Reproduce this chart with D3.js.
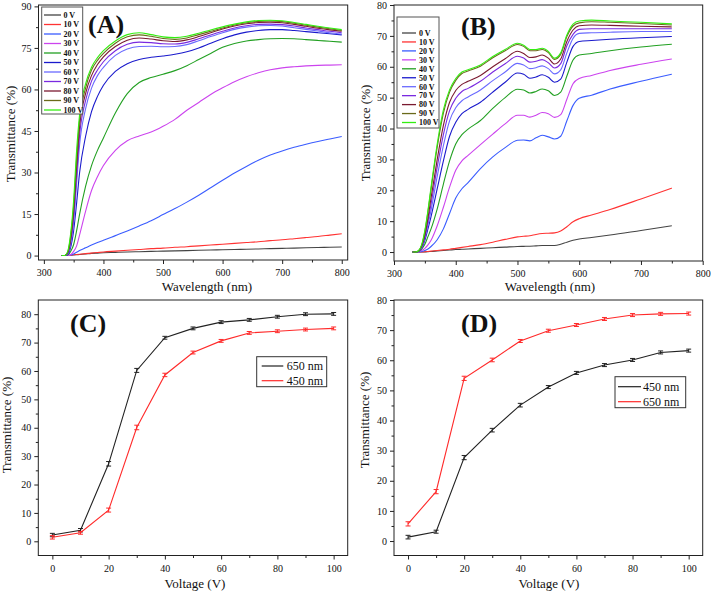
<!DOCTYPE html>
<html><head><meta charset="utf-8">
<script src="https://cdn.jsdelivr.net/npm/d3@7"></script>
<style>
body{margin:0;background:#fff}
svg{display:block}
text{font-family:"Liberation Serif","Times New Roman",serif;fill:#111}
</style>
</head><body>
<svg id="c" width="711" height="592"></svg>
<script>
// ---------- legend / series names ----------
const voltLabels = ["0 V","10 V","20 V","30 V","40 V","50 V","60 V","70 V","80 V","90 V","100 V"];
const voltColors = ["#444444","#ff3333","#3a5cff","#cc44ee","#22a022","#1a1acc","#6a6aff","#7a2ae0","#7a1a30","#6a6a1a","#33ee11"];

// ---------- panel A : wavelength (nm) ----------
const wlA = [330,335,340,345,350,355,360,370,380,390,400,420,440,460,480,500,520,540,560,580,600,620,640,660,680,700,720,740,760,780,800];
const a0   = [0,0,0,0.1,0.2,0.3,0.4,0.6,0.8,0.9,1.0,1.15,1.3,1.4,1.5,1.6,1.7,1.8,1.9,2.0,2.1,2.2,2.3,2.4,2.5,2.6,2.7,2.8,2.9,3.0,3.1];
const a10  = [0,0,0,0.1,0.3,0.4,0.5,0.7,0.9,1.1,1.3,1.6,1.9,2.2,2.5,2.7,3.0,3.2,3.5,3.8,4.1,4.4,4.7,5.0,5.4,5.7,6.1,6.5,6.9,7.4,7.9];
const a20  = [0,0,0,0.2,0.6,1.2,1.8,2.8,3.8,4.7,5.5,7.2,8.9,10.7,12.6,14.8,17.0,19.3,21.8,24.5,27.2,29.8,32.2,34.4,36.3,37.8,39.1,40.2,41.2,42.1,43.0];
const a30  = [0,0,0,0.3,1.5,3.5,7.5,16,23.5,28.5,32.5,38,41.5,43.2,44.6,46.7,49.2,52.5,55.3,58.2,60.6,62.8,64.6,66.0,67.1,67.8,68.2,68.5,68.7,68.8,68.9];
const a40  = [0,0,0.2,1.5,4,9,15,25,32.5,38,42.5,51.5,58.5,62.5,64.3,65.5,66.8,68.6,70.8,73.0,75.2,76.6,77.5,78.0,78.3,78.4,78.3,78.0,77.7,77.4,77.1];
const a50  = [0,0,0.4,3,9,19,30,43,52,57.5,61.5,66.5,69.3,70.8,71.6,72.1,72.7,73.6,75.0,76.7,78.3,79.7,80.7,81.3,81.6,81.6,81.3,80.9,80.5,80.1,79.7];
const a60  = [0,0,0.6,4,12,26,40,53,60.5,65,68,72.3,74.6,75.5,75.6,75.4,75.5,76.2,77.6,79.1,80.5,81.7,82.5,83.0,83.1,82.9,82.3,81.7,81.1,80.5,80.0];
const a70  = [0,0,0.8,5,14,29,43.5,56,63,67,70,74,76.3,77.1,76.9,76.5,76.4,77.0,78.3,79.7,81.0,82.2,83.0,83.5,83.6,83.4,82.9,82.2,81.6,81.0,80.5];
const a80  = [0,0,1,6,16,32,46.5,58.5,65,69,71.8,75.5,77.8,78.6,78.2,77.6,77.3,77.9,79.1,80.5,81.8,82.9,83.7,84.2,84.3,84.1,83.5,82.8,82.1,81.5,81.0];
const a90  = [0,0,1.2,7,18,35,49,60.5,67,70.5,73,76.7,79,79.7,79.2,78.4,78.1,78.6,79.8,81.0,82.2,83.3,84.1,84.6,84.7,84.5,83.9,83.2,82.5,81.9,81.3];
const a100 = [0,0,1.5,8,20,38,51,62,68,71.5,74,77.5,79.8,80.5,79.8,79.0,78.7,79.2,80.3,81.5,82.6,83.6,84.4,84.9,85.0,84.8,84.2,83.5,82.8,82.2,81.6];
const seriesA = [a0,a10,a20,a30,a40,a50,a60,a70,a80,a90,a100];

// ---------- panel B : wavelength (nm) ----------
const wlB = [330,335,340,345,350,355,360,370,380,390,400,410,420,440,460,480,500,510,520,530,540,550,560,570,580,590,600,620,650,700,750];
const b0   = [0,0,0,0,0.05,0.1,0.2,0.35,0.5,0.65,0.8,0.9,1.0,1.2,1.4,1.6,1.8,1.85,1.9,2.0,2.1,2.1,2.1,2.5,3.2,3.8,4.2,4.7,5.5,7.0,8.5];
const b10  = [0,0,0,0.05,0.1,0.2,0.3,0.5,0.7,0.9,1.2,1.5,1.8,2.4,3.2,4.1,4.9,5.1,5.3,5.7,6.0,6.1,6.2,6.8,8.2,9.8,10.8,12.0,13.8,17.2,20.7];
const b20  = [0,0,0,0.2,0.5,1,1.8,4,7.5,12.5,17.5,20.5,22.5,27,30.8,33.8,36.2,36.3,36,37,37.8,37.3,36.6,37.5,42.5,47.5,49.8,50.8,52.8,55.3,57.6];
const b30  = [0,0,0.1,0.5,1.2,2.3,3.8,8.5,14.5,21,26.5,29.5,31.3,34.8,38.2,41.5,44.3,44.3,43.7,44.3,45.2,44.8,43.6,44.5,49.5,54.5,56.2,57.2,58.8,60.8,62.5];
const b40  = [0,0,0.2,1,2.5,5,7.5,14,22,29.5,35,38,39.8,42.6,46.5,50,52.7,52.5,51.5,52,52.8,52.2,50.7,51.8,57,62.2,63.8,64.3,65.2,66.4,67.3];
const b50  = [0,0,0.25,1.3,3.8,7.5,11.5,20.5,29.5,37.5,42,44.8,46.2,48.5,51.8,55,58,57.6,56.3,56.7,57.4,56.6,55,56,61.5,66.6,68.2,68.5,68.9,69.4,69.8];
const b60  = [0,0,0.3,1.5,4.5,8.8,13.5,24.5,34.5,42.5,46.7,49,50.2,52.5,55.5,58.3,61.1,60.6,59.4,59.7,60.3,59.4,57.7,59,64.5,69.2,70.8,71.0,71.2,71.4,71.4];
const b70  = [0,0,0.35,1.8,5,10,15.5,27.5,38,45.8,49.8,52,53,55.3,58.3,61,63.4,62.8,61.5,61.8,62.3,61.3,59.6,61,66.8,70.5,72.1,72.3,72.3,72.3,72.3];
const b80  = [0,0,0.4,2,5.5,11,17.5,30,41,48.5,52.3,54.3,55.3,57.2,60,62.6,65,64.3,63,63.2,63.8,62.8,60.9,62.5,68.2,71.9,73.3,73.5,73.4,73.1,72.9];
const b90  = [0,0,0.45,2.3,6.6,13,20.3,34,45,51.8,55.6,57.8,58.6,60.2,62.9,65.2,67.2,66.6,65.2,65.2,65.6,64.6,62.4,64,69.8,73.2,74.2,74.6,74.4,74.0,73.5];
const b100 = [0,0,0.5,2.5,7,13.5,21,35,46,52.5,56.2,58.3,59,60.6,63.3,65.6,67.6,67.0,65.6,65.6,66.0,65.0,62.8,64.5,70.3,73.8,74.8,75.1,74.8,74.4,73.9];
const seriesB = [b0,b10,b20,b30,b40,b50,b60,b70,b80,b90,b100];

// ---------- panels C, D : voltage (V) ----------
const voltages = [0,10,20,30,40,50,60,70,80,90,100];
const c650 = [2.2,3.9,27.3,60.2,71.7,75.0,77.2,78.0,79.1,80.0,80.1];
const c650err = [0.6,0.6,0.8,0.7,0.5,0.5,0.5,0.5,0.5,0.5,0.5];
const c450 = [1.4,3.0,11.0,40.1,58.6,66.5,70.6,73.4,74.0,74.6,75.0];
const c450err = [0.6,0.5,0.7,0.8,0.6,0.5,0.5,0.5,0.5,0.5,0.5];
const d450 = [1.3,3.1,27.7,36.8,45.1,51.1,55.8,58.4,60.1,62.6,63.2];
const d450err = [0.6,0.5,0.7,0.6,0.6,0.5,0.5,0.5,0.5,0.5,0.5];
const d650 = [5.7,16.4,54.0,60.1,66.4,69.8,71.7,73.7,75.0,75.4,75.5];
const d650err = [0.7,0.7,0.7,0.6,0.5,0.5,0.5,0.5,0.5,0.5,0.5];

// ---------- tick values ----------
const ticksWl = [300,400,500,600,700,800];
const minorWl = [350,450,550,650,750];
const ticksA_y = [0,15,30,45,60,75,90];
const minorA_y = [7.5,22.5,37.5,52.5,67.5,82.5];
const ticksB_y = [0,10,20,30,40,50,60,70,80];
const minorB_y = [5,15,25,35,45,55,65,75];
const ticksV = [0,20,40,60,80,100];
const minorV = [10,30,50,70,90];

const svg = d3.select("#c");

function panel(o){
  const x = d3.scaleLinear().domain(o.xd).range([o.L,o.R]);
  const y = d3.scaleLinear().domain(o.yd).range([o.B,o.T]);
  const g = svg.append("g");
  // axes
  const ax = g.append("g").attr("transform",`translate(0,${o.B})`)
    .call(d3.axisBottom(x).tickValues(o.xt).tickSize(4).tickPadding(5));
  const axm = g.append("g").attr("transform",`translate(0,${o.B})`)
    .call(d3.axisBottom(x).tickValues(o.xm).tickSize(2.5).tickFormat(""));
  const ay = g.append("g").attr("transform",`translate(${o.L},0)`)
    .call(d3.axisLeft(y).tickValues(o.yt).tickSize(4).tickPadding(3));
  const aym = g.append("g").attr("transform",`translate(${o.L},0)`)
    .call(d3.axisLeft(y).tickValues(o.ym).tickSize(2.5).tickFormat(""));
  [ax,axm,ay,aym].forEach(a=>{
    a.select(".domain").remove();
    a.selectAll("line").attr("stroke","#222");
    a.selectAll("text").attr("font-size",10).attr("font-family","Liberation Serif, serif").attr("fill","#111");
  });
  // frame
  g.append("rect").attr("x",o.L).attr("y",o.T).attr("width",o.R-o.L).attr("height",o.B-o.T)
    .attr("fill","none").attr("stroke","#222").attr("stroke-width",1);
  // titles
  g.append("text").attr("x",o.xtx).attr("y",o.xty).attr("text-anchor","middle").attr("font-size",13).text(o.xtitle);
  g.append("text").attr("transform",`translate(${o.ytx},${o.yty}) rotate(-90)`).attr("text-anchor","middle")
    .attr("font-size",13).text("Transmittance (%)");
  g.append("text").attr("x",o.lx).attr("y",o.ly).attr("font-size",26).attr("font-weight","bold").text(o.label);
  return {x,y,g};
}

function spectra(p, wl, series, leg){
  const line = d3.line().x((d,i)=>p.x(wl[i])).y(d=>p.y(d)).curve(d3.curveMonotoneX);
  series.forEach((s,k)=>{
    p.g.append("path").attr("d",line(s)).attr("fill","none").attr("stroke",voltColors[k]).attr("stroke-width",1.1);
  });
  const lg = p.g.append("g");
  lg.append("rect").attr("x",leg.x0).attr("y",leg.y0).attr("width",leg.x1-leg.x0).attr("height",leg.y1-leg.y0)
    .attr("fill","#fff").attr("stroke","#555").attr("stroke-width",1);
  voltLabels.forEach((t,k)=>{
    const yy = leg.first + k*leg.step;
    lg.append("line").attr("x1",leg.lx0).attr("x2",leg.lx1).attr("y1",yy).attr("y2",yy)
      .attr("stroke",voltColors[k]).attr("stroke-width",1.3);
    lg.append("text").attr("x",leg.tx).attr("y",yy+2.8).attr("font-size",8).attr("font-weight","bold").text(t);
  });
}

function voltagePlot(p, sets, leg){
  sets.forEach(s=>{
    const line = d3.line().x((d,i)=>p.x(voltages[i])).y(d=>p.y(d));
    p.g.append("path").attr("d",line(s.v)).attr("fill","none").attr("stroke",s.c).attr("stroke-width",1.1);
    s.v.forEach((v,i)=>{
      const xx = p.x(voltages[i]), e = s.e[i];
      p.g.append("line").attr("x1",xx).attr("x2",xx).attr("y1",p.y(v-e)).attr("y2",p.y(v+e)).attr("stroke",s.c);
      [v-e,v+e].forEach(q=>p.g.append("line").attr("x1",xx-2.5).attr("x2",xx+2.5).attr("y1",p.y(q)).attr("y2",p.y(q)).attr("stroke",s.c));
    });
  });
  const lg = p.g.append("g");
  lg.append("rect").attr("x",leg.x0).attr("y",leg.y0).attr("width",leg.x1-leg.x0).attr("height",leg.y1-leg.y0)
    .attr("fill","#fff").attr("stroke","#333").attr("stroke-width",1);
  sets.forEach((s,k)=>{
    const yy = leg.first + k*leg.step;
    lg.append("line").attr("x1",leg.lx0).attr("x2",leg.lx1).attr("y1",yy).attr("y2",yy).attr("stroke",s.c).attr("stroke-width",1.2);
    lg.append("text").attr("x",leg.tx).attr("y",yy+4).attr("font-size",12).text(s.name);
  });
}

// Panel A
const pA = panel({L:38.5,R:347.7,T:5,B:260,xd:[291,810],yd:[-1.6,90.5],xt:ticksWl,xm:minorWl,yt:ticksA_y,ym:minorA_y,
  xtitle:"Wavelength (nm)",xtx:207,xty:291,ytx:15,yty:134,label:"(A)",lx:88,ly:33});
spectra(pA, wlA, seriesA, {x0:41.7,x1:82.7,y0:7,y1:114,first:15,step:9.5,lx0:44,lx1:61,tx:63.5});

// Panel B
const pB = panel({L:394,R:702.7,T:5,B:261,xd:[300,800],yd:[-2.9,80],xt:ticksWl,xm:minorWl,yt:ticksB_y,ym:minorB_y,
  xtitle:"Wavelength (nm)",xtx:550,xty:291,ytx:370,yty:133,label:"(B)",lx:461,ly:35});
spectra(pB, wlB, seriesB, {x0:397,x1:439,y0:17,y1:128,first:33,step:8.95,lx0:402,lx1:416,tx:419});

// Panel C
const pC = panel({L:38.3,R:347.7,T:300,B:555.5,xd:[-5,105],yd:[-5,85],xt:ticksV,xm:minorV,yt:ticksB_y,ym:minorB_y,
  xtitle:"Voltage (V)",xtx:195,xty:588,ytx:11,yty:425,label:"(C)",lx:70,ly:332});
voltagePlot(pC, [{v:c650,e:c650err,c:"#222222",name:"650 nm"},{v:c450,e:c450err,c:"#ff2a2a",name:"450 nm"}],
  {x0:256.7,x1:326.7,y0:356.7,y1:386.7,first:366,step:14.7,lx0:261.7,lx1:283.3,tx:286.7});

// Panel D
const pD = panel({L:394,R:702.7,T:300,B:555.5,xd:[-5,105],yd:[-4.8,80],xt:ticksV,xm:minorV,yt:ticksB_y,ym:minorB_y,
  xtitle:"Voltage (V)",xtx:549,xty:588,ytx:369,yty:420,label:"(D)",lx:461,ly:332});
voltagePlot(pD, [{v:d450,e:d450err,c:"#222222",name:"450 nm"},{v:d650,e:d650err,c:"#ff2a2a",name:"650 nm"}],
  {x0:615,x1:685.7,y0:376.7,y1:407.7,first:386.7,step:15,lx0:618,lx1:641,tx:643});
</script>
</body></html>
